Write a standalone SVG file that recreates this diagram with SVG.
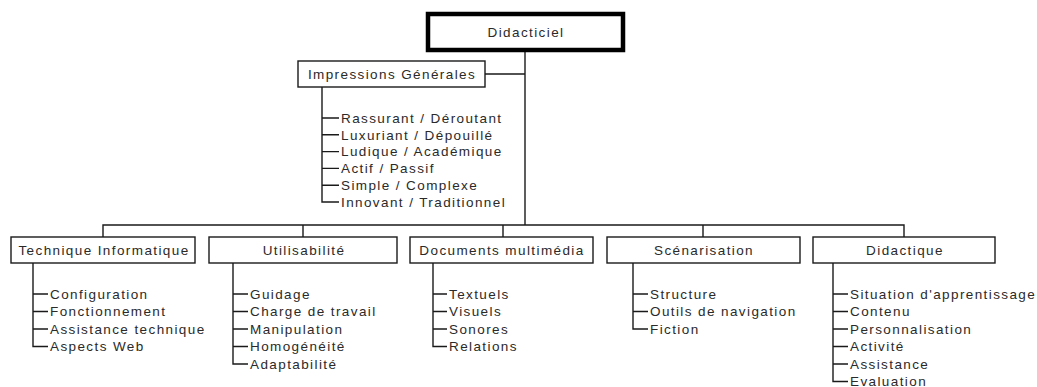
<svg xmlns="http://www.w3.org/2000/svg" width="1037" height="387" viewBox="0 0 1037 387">
<style>
text{font-family:"Liberation Sans",Arial,sans-serif;font-size:13.5px;letter-spacing:1.4px;fill:#2a2a2a}
.c{text-anchor:middle}
.box{fill:#fff;stroke:#1a1a1a;stroke-width:1.4}
.main{fill:#fff;stroke:#000;stroke-width:4.5}
#connectors path{fill:none;stroke:#1a1a1a;stroke-width:1.4}
</style>
<rect width="1037" height="387" fill="#fff"/>
<g id="connectors">
<path d="M525 50V225M485 74H525"/>
<path d="M103 237V225H904V237M303 225V237M503 225V237M703 225V237"/>
<path d="M322 87V202H339M322 118H339M322 134.8H339M322 151.6H339M322 168.4H339M322 185.2H339"/>
<path d="M33 263V346.5H48M33 294H48M33 311.5H48M33 329H48"/>
<path d="M233 263V364H248M233 294H248M233 311.5H248M233 329H248M233 346.5H248"/>
<path d="M433 263V346.5H447M433 294H447M433 311.5H447M433 329H447"/>
<path d="M633 263V329H648M633 294H648M633 311.5H648"/>
<path d="M833 263V381.5H848M833 294H848M833 311.5H848M833 329H848M833 346.5H848M833 364H848"/>
</g>
<g id="didacticiel"><rect class="main" x="428" y="14" width="195" height="36"/><text class="c" x="526" y="37">Didacticiel</text></g>
<g id="impressions"><rect class="box" x="298" y="61" width="187" height="26"/><text class="c" x="392" y="79">Impressions Générales</text>
<text x="341" y="122.8">Rassurant / Déroutant</text>
<text x="341" y="139.6">Luxuriant / Dépouillé</text>
<text x="341" y="156.4">Ludique / Académique</text>
<text x="341" y="173.2">Actif / Passif</text>
<text x="341" y="190">Simple / Complexe</text>
<text x="341" y="206.8">Innovant / Traditionnel</text></g>
<g id="technique"><rect class="box" x="11" y="237" width="184" height="26"/><text class="c" x="104" y="255">Technique Informatique</text>
<text x="50" y="298.8">Configuration</text>
<text x="50" y="316.3">Fonctionnement</text>
<text x="50" y="333.8">Assistance technique</text>
<text x="50" y="351.3">Aspects Web</text></g>
<g id="utilisabilite"><rect class="box" x="209" y="237" width="188" height="26"/><text class="c" x="304" y="255">Utilisabilité</text>
<text x="250" y="298.8">Guidage</text>
<text x="250" y="316.3">Charge de travail</text>
<text x="250" y="333.8">Manipulation</text>
<text x="250" y="351.3">Homogénéité</text>
<text x="250" y="368.8">Adaptabilité</text></g>
<g id="documents"><rect class="box" x="410" y="237" width="183" height="26"/><text class="c" x="502" y="255">Documents multimédia</text>
<text x="449" y="298.8">Textuels</text>
<text x="449" y="316.3">Visuels</text>
<text x="449" y="333.8">Sonores</text>
<text x="449" y="351.3">Relations</text></g>
<g id="scenarisation"><rect class="box" x="607" y="237" width="193" height="26"/><text class="c" x="704" y="255">Scénarisation</text>
<text x="650" y="298.8">Structure</text>
<text x="650" y="316.3">Outils de navigation</text>
<text x="650" y="333.8">Fiction</text></g>
<g id="didactique"><rect class="box" x="813" y="237" width="182" height="26"/><text class="c" x="905" y="255">Didactique</text>
<text x="850" y="298.8">Situation d'apprentissage</text>
<text x="850" y="316.3">Contenu</text>
<text x="850" y="333.8">Personnalisation</text>
<text x="850" y="351.3">Activité</text>
<text x="850" y="368.8">Assistance</text>
<text x="850" y="386">Evaluation</text></g>
</svg>
